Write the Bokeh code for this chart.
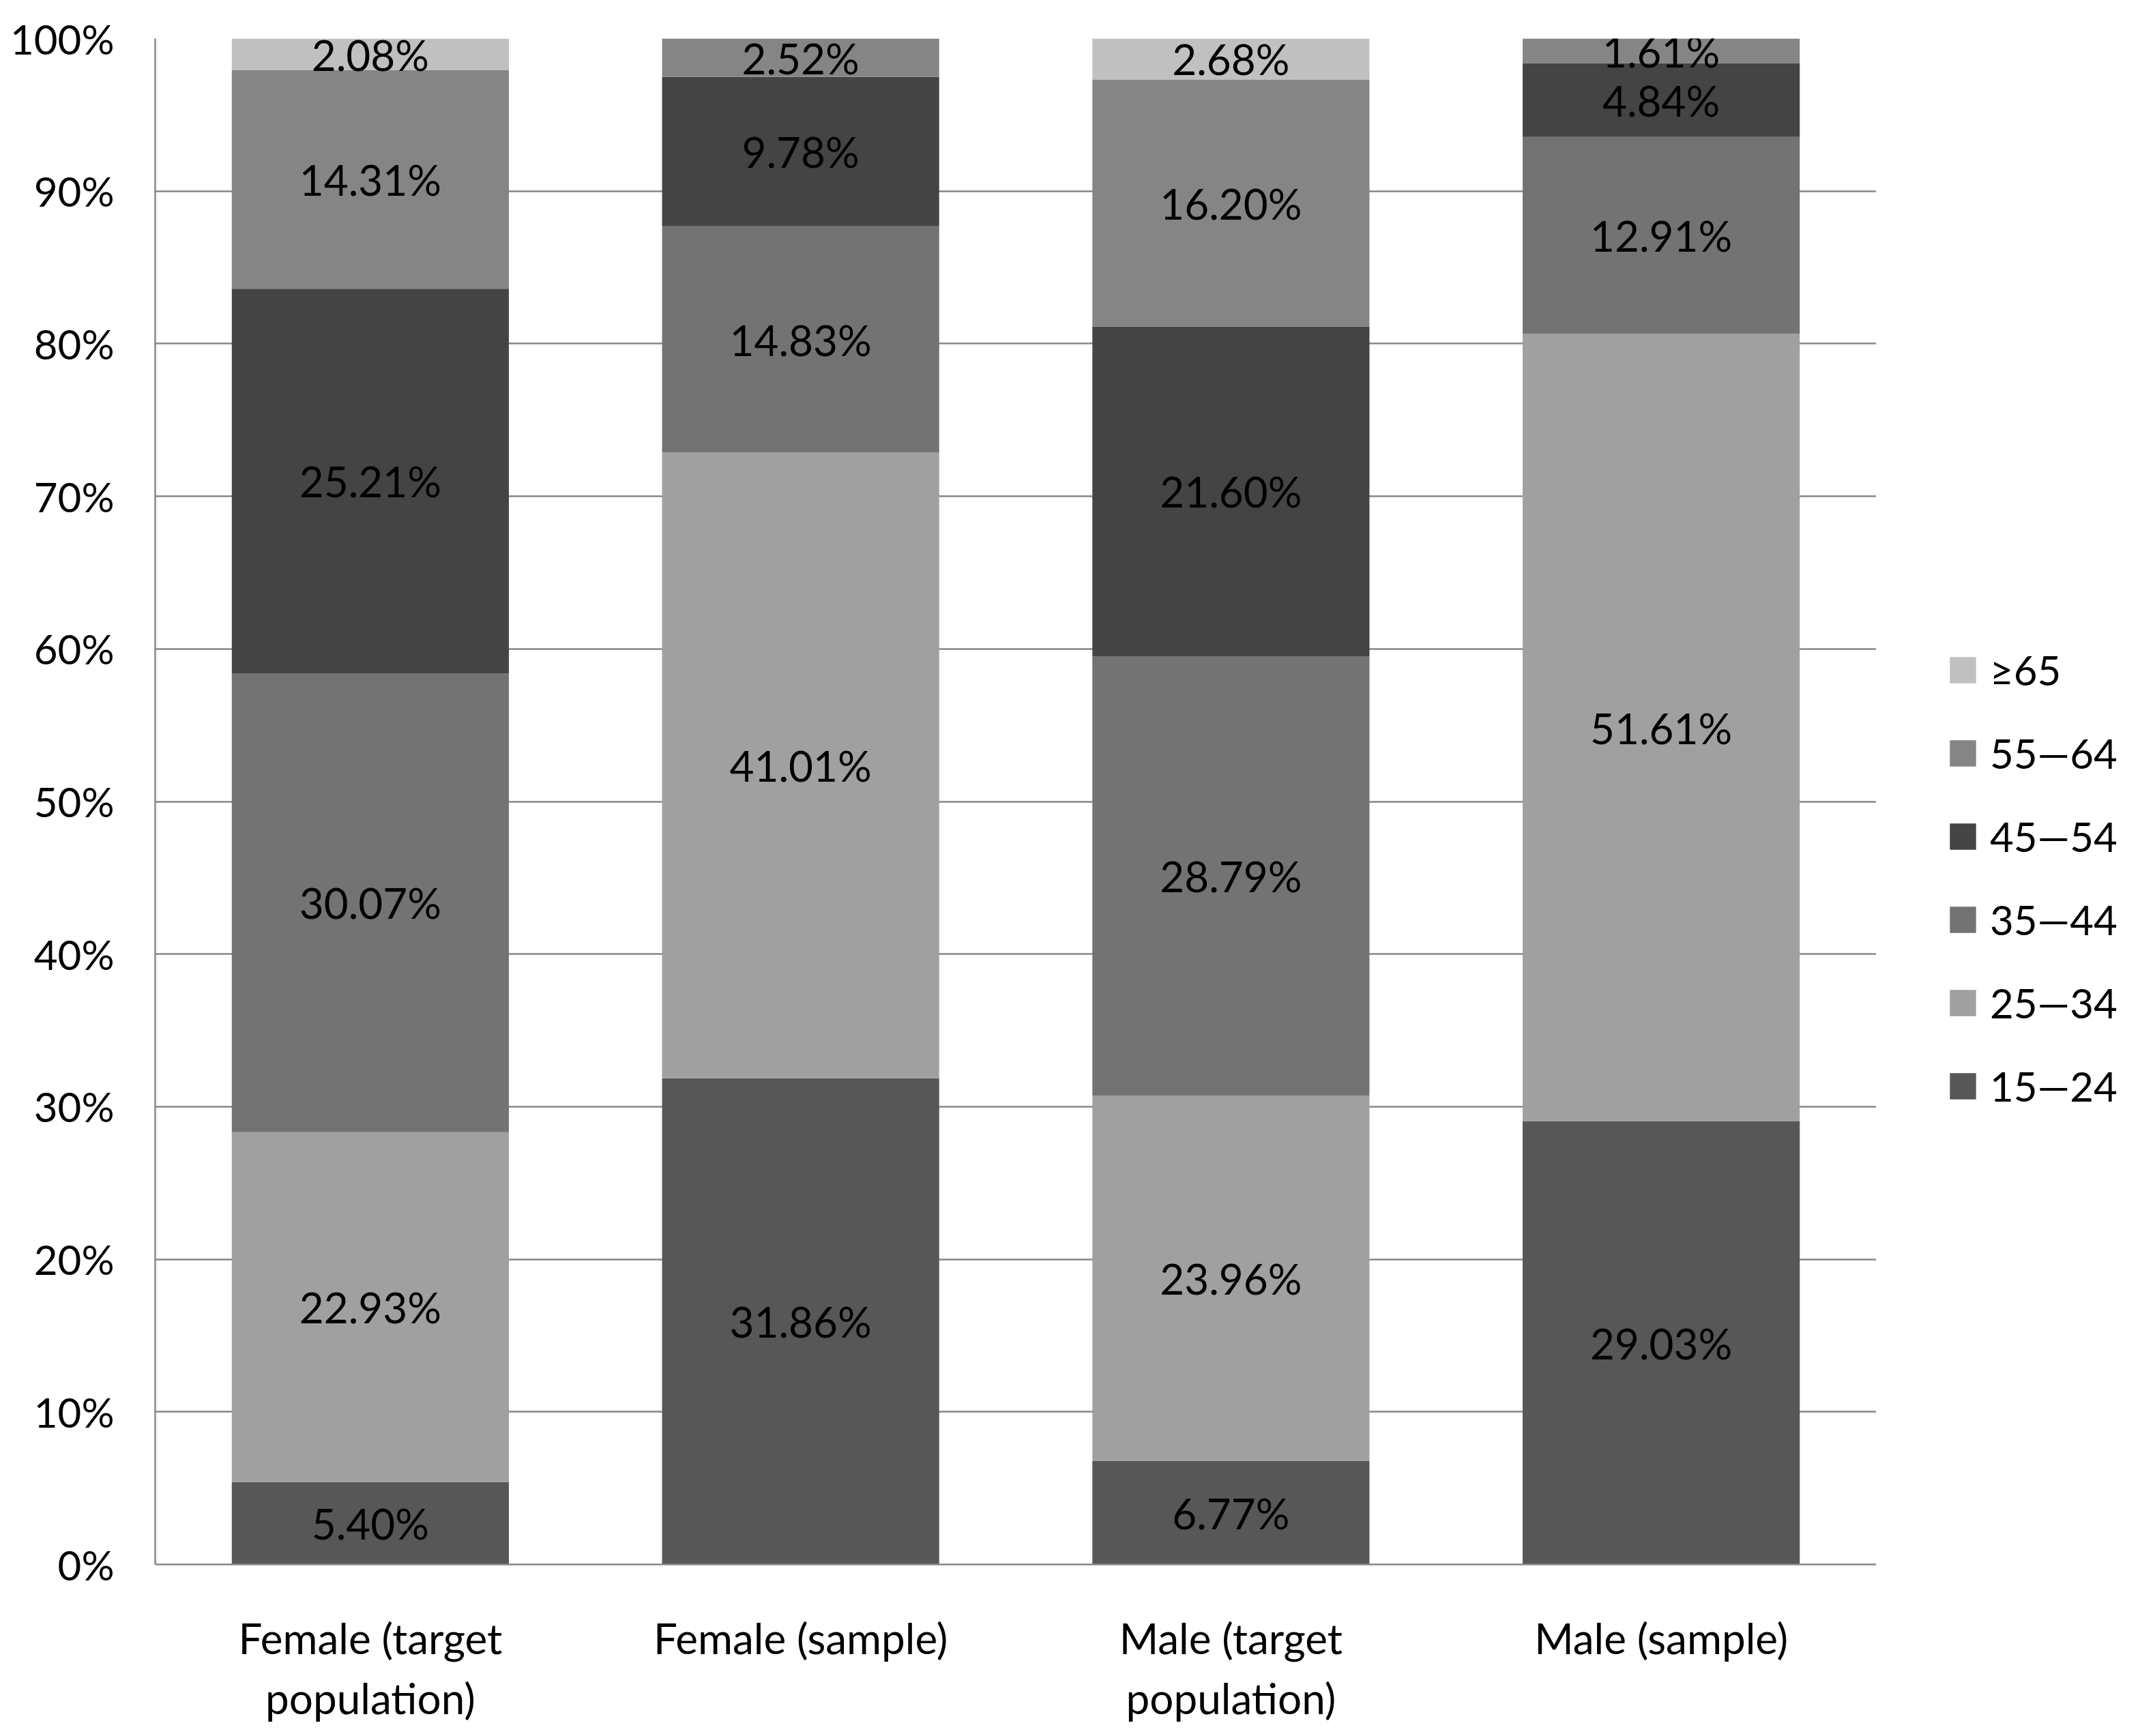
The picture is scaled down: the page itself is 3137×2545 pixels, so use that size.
import numpy as np
from bokeh.plotting import figure
from bokeh.layouts import row
from bokeh.models import (FactorRange, Range1d, ColumnDataSource, LabelSet, Legend,
                          LegendItem, FixedTicker, NumeralTickFormatter)
from bokeh.core.properties import value
from bokeh.embed import file_html
from bokeh.resources import INLINE

# ---- data ----
categories = ["Female (target\npopulation)", "Female (sample)",
              "Male (target\npopulation)", "Male (sample)"]
age_groups = ["15\u201424", "25\u201434", "35\u201444", "45\u201454", "55\u201464", "\u226565"]
age_15_24 = [5.40, 31.86, 6.77, 29.03]
age_25_34 = [22.93, 41.01, 23.96, 51.61]
age_35_44 = [30.07, 14.83, 28.79, 12.91]
age_45_54 = [25.21, 9.78, 21.60, 4.84]
age_55_64 = [14.31, 2.52, 16.20, 1.61]
age_65_up = [2.08, 0.00, 2.68, 0.00]
y_ticks = [0.0, 0.1, 0.2, 0.3, 0.4, 0.5, 0.6, 0.7, 0.8, 0.9, 1.0]

colors = ["#575757", "#a0a0a0", "#737373", "#444444", "#858585", "#c0c0c0"]
series = [age_15_24, age_25_34, age_35_44, age_45_54, age_55_64, age_65_up]
keys = ["a15", "a25", "a35", "a45", "a55", "a65"]

data = {"cat": categories}
for k, s in zip(keys, series):
    data[k] = [v / 100.0 for v in s]
src = ColumnDataSource(data)

FONT = "Lato"

p = figure(x_range=FactorRange(*categories, range_padding=0), y_range=Range1d(0, 1),
           width=2750, height=2529, output_backend="svg", toolbar_location=None,
           min_border_left=227, min_border_right=0, min_border_top=56,
           min_border_bottom=233)
p.outline_line_color = None
p.background_fill_color = "white"

rs = p.vbar_stack(keys, x="cat", width=0.644, color=colors, source=src, line_color=None)

# data labels
lx, ly, lt = [], [], []
arr = np.array(series) / 100.0
cum = np.cumsum(arr, axis=0)
for i in range(len(series)):
    for j, c in enumerate(categories):
        v = arr[i, j]
        if v > 0:
            lx.append(c)
            ly.append(cum[i, j] - v / 2)
            lt.append("%.2f%%" % series[i][j])
lsrc = ColumnDataSource(dict(x=lx, y=ly, t=lt))
labels = LabelSet(x="x", y="y", text="t", source=lsrc, text_align="center",
                  text_baseline="middle", text_font=value(FONT), text_font_size="62px",
                  text_color="black")
p.add_layout(labels)

# axes
p.yaxis.ticker = FixedTicker(ticks=y_ticks)
p.yaxis.formatter = NumeralTickFormatter(format="0%")
for ax in (p.xaxis[0], p.yaxis[0]):
    ax.major_tick_line_color = None
    ax.minor_tick_line_color = None
    ax.major_tick_out = 0
    ax.major_tick_in = 0
    ax.minor_tick_out = 0
    ax.axis_line_color = "#878787"
    ax.axis_line_width = 2.5
    ax.major_label_text_font = FONT
    ax.major_label_text_font_size = "60px"
    ax.major_label_text_color = "black"
p.yaxis.major_label_standoff = 60
p.xaxis.major_label_standoff = 70
p.xaxis.major_label_text_font_size = "62px"
p.xgrid.grid_line_color = None
p.ygrid.grid_line_color = "#878787"
p.ygrid.grid_line_width = 2.5
p.ygrid.ticker = FixedTicker(ticks=y_ticks)

# legend (separate panel to the right of the plot; its renderers lie outside its view)
lf = figure(width=371, height=2529, output_backend="svg", toolbar_location=None,
            x_range=Range1d(0, 1), y_range=Range1d(0, 1),
            x_axis_location=None, y_axis_location=None, min_border=0)
lf.outline_line_color = None
lf.xgrid.grid_line_color = None
lf.ygrid.grid_line_color = None
dummy = [lf.vbar(x=[-5], bottom=[-5], top=[-4], width=1, color=c, line_color=None)
         for c in colors]
items = [LegendItem(label=age_groups[i], renderers=[dummy[i]]) for i in range(len(dummy))][::-1]
legend = Legend(items=items, location=(103, 664), orientation="vertical",
                glyph_width=48, glyph_height=48, label_standoff=16,
                label_text_font=FONT, label_text_font_size="60px", label_text_color="black",
                label_height=75, spacing=47, padding=0, margin=0,
                border_line_color=None, background_fill_alpha=0)
lf.add_layout(legend, "center")

layout = row(p, lf, spacing=0)
open("out.html", "w").write(file_html(layout, INLINE))
